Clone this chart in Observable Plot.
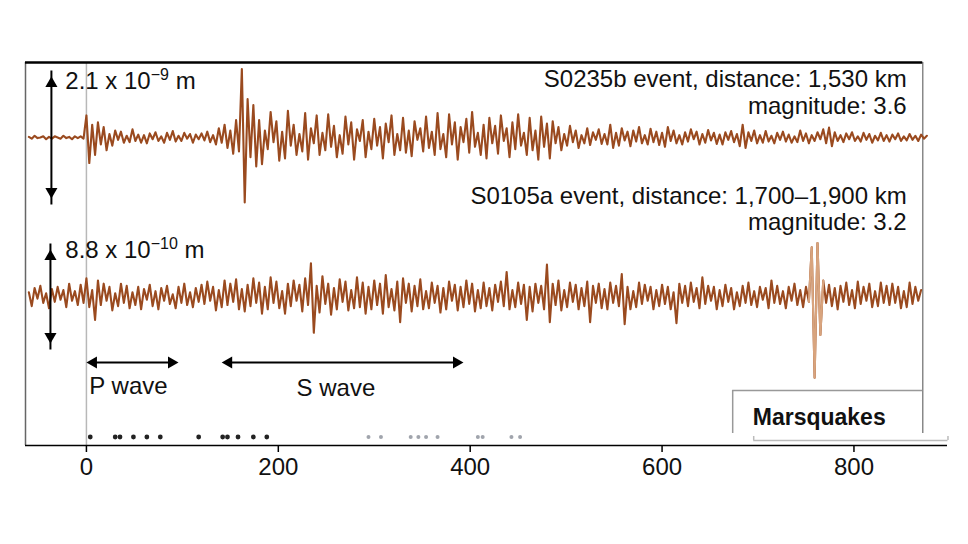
<!DOCTYPE html>
<html>
<head>
<meta charset="utf-8">
<script src="https://cdn.jsdelivr.net/npm/d3@7"></script>
<script src="https://cdn.jsdelivr.net/npm/@observablehq/plot@0.6"></script>
<style>
  html, body { margin: 0; padding: 0; background: #fff; }
</style>
</head>
<body>
<div id="chart"></div>
<script>
// ---- Data ----
// Sampling grid of both seismograms (seconds)
const sampleStart = -60;
const sampleStep = 3;

// S0235b event: displacement, units of 1e-11 m
const traceS0235b = [
  1,-2,3,-1,0,2,-3,1,-2,2,0,-2,3,-1,1,-3,2,-1,2,-2,
  38,-44,22,-30,26,-12,18,-22,6,-14,12,-4,10,-9,3,-8,14,-6,5,-9,
  4,-10,7,-3,9,-6,2,-9,8,-4,11,-7,3,-6,8,-2,6,-9,5,-3,
  7,-5,10,-8,4,-12,16,-9,22,-18,12,-28,30,-24,118,-112,66,-34,56,-50,
  30,-46,12,-20,44,-8,28,-40,10,-36,46,-14,22,-30,6,-24,42,-38,16,-10,
  38,-30,8,-22,40,-16,20,-34,4,-28,36,-12,26,-38,14,-6,30,-34,10,-20,
  32,-14,18,-36,24,-8,38,-30,6,-22,34,-26,12,-32,28,-4,16,-24,36,-18,
  10,-30,42,-20,6,-34,40,-12,26,-38,18,-8,32,-26,44,-16,8,-30,22,-36,
  34,-10,20,-28,38,-6,16,-34,26,-20,40,-14,8,-30,34,-22,12,-38,36,-16,
  24,-36,28,-10,18,-22,6,-14,20,-8,12,-18,4,-10,16,-13,9,-4,14,-11,
  6,-12,22,-18,8,-14,16,-5,10,-15,12,-7,18,-10,4,-12,15,-8,10,-13,
  8,-16,18,-6,12,-10,4,-12,9,-7,14,-3,10,-12,6,-9,13,-5,8,-11,
  5,-12,9,-4,11,-8,6,-15,22,-18,9,-6,12,-10,4,-9,11,-7,3,-10,
  8,-4,10,-7,5,-9,2,-8,12,-6,7,-10,4,-6,9,-3,14,-10,17,-15,
  9,-6,4,-8,7,-3,9,-6,2,-7,8,-4,6,-9,3,-5,8,-6,4,-7,
  5,-3,7,-6,2,-5,6,-4,3,-6,5,-2,3
];

// S0105a event: displacement, units of 1e-11 m
const traceS0105a = [
  4,-9,8,-2,10,-6,3,-11,7,-5,9,-3,6,-10,12,-4,5,-8,11,-6,
  17,-10,6,-22,15,-8,12,-4,9,-13,3,-9,12,-6,10,-11,4,-8,9,-12,
  7,-3,11,-9,5,-12,8,-4,10,-7,2,-11,9,-6,12,-8,4,-10,8,-5,
  11,-7,14,-4,9,-13,6,-10,15,-8,12,-5,16,-12,7,-14,11,-9,17,-6,
  13,-16,9,-12,18,-6,14,-11,5,-16,12,-9,15,-4,11,-14,17,-8,31,-34,
  10,-15,19,-7,12,-17,8,-12,16,-5,14,-13,6,-11,18,-10,13,-16,9,-12,
  15,-8,12,-16,20,-10,7,-13,14,-24,17,-6,12,-14,10,-9,16,-12,5,-11,
  13,-6,10,-15,8,-12,14,-4,11,-13,9,-10,15,-7,12,-14,6,-11,13,-9,
  8,-13,11,-5,14,-9,23,-12,6,-10,13,-7,11,-22,9,-14,12,-6,10,-12,
  30,-24,12,-8,15,-13,6,-10,13,-5,11,-12,8,-9,14,-24,10,-6,12,-11,
  7,-12,13,-6,10,-9,21,-26,9,-12,5,-10,13,-7,11,-4,9,-12,6,-9,
  11,-7,9,-12,4,-25,12,-6,10,-9,13,-5,8,-11,18,-7,10,-4,9,-12,
  6,-9,11,-5,8,-12,4,-9,10,-6,13,-8,5,-10,9,-3,8,-11,15,-6,
  10,-7,5,-11,9,-4,12,-8,6,-10,9,-5,46,-76,50,-36,15,-6,11,-9,
  8,-12,10,-5,13,-8,6,-11,14,-7,9,-4,12,-10,5,-9,13,-6,10,-8,
  12,-6,9,-11,5,-10,13,-7,9,-4,6
];

// Scale bars (metres)
const scaleBarTop = 2.1e-9;
const scaleBarBottom = 8.8e-10;

// Texts
const eventLabels = ["S0235b event, distance: 1,530 km", "magnitude: 3.6",
                     "S0105a event, distance: 1,700\u20131,900 km", "magnitude: 3.2"];
const scaleLabelParts = [["2.1 x 10", "\u22129", " m"], ["8.8 x 10", "\u221210", " m"]];
const phaseLabels = ["P wave", "S wave"];
const phaseWindows = [[0, 96], [141, 393]];   // seconds
const xTicks = [0, 200, 400, 600, 800];
const highlightWindow = [752, 770];            // lighter glitch segment of S0105a
const remnantDark = [4, 30, 35, 49, 63, 77, 117, 142, 147, 158, 174, 188];
const remnantLight = [294, 307, 338, 346, 354, 366, 408, 413, 443, 452];

// ---- Layout (y units = drawing units of the frame) ----
const baseTop = 308, baseBottom = 149;
const barLenTop = 122, barLenBottom = 94;
const gainTop = barLenTop / (scaleBarTop / 1e-11);
const gainBottom = barLenBottom / (scaleBarBottom / 1e-11);

const topData = traceS0235b.map((v, i) => ({t: sampleStart + i * sampleStep, y: baseTop + v * gainTop}));
const botData = traceS0105a.map((v, i) => ({t: sampleStart + i * sampleStep, y: baseBottom + v * gainBottom}));
const botHi = botData.filter(d => d.t >= highlightWindow[0] && d.t <= highlightWindow[1]);

const brown = "#9a4a1f";
const font = "Liberation Sans, Arial, Helvetica, sans-serif";
const fs = 24;
const xL = -63.5, xR = 897.5, frameR = 871.7, yTop = 383;

function txt(s, x, y, o = {}) {
  return Plot.text([s], {x, y, text: d => d, fontSize: fs, fill: "#111", ...o});
}
function vArrow(x, y1, y2) {
  return [
    Plot.link([0], {x1: x, x2: x, y1: y1 - 6, y2: y2 + 6, stroke: "#000", strokeWidth: 2}),
    Plot.dot([0], {x, y: y2, dy: 7, symbol: "triangle", r: 4.5, fill: "#000", rotate: 0}),
    Plot.dot([0], {x, y: y1, dy: -7, symbol: "triangle", r: 4.5, fill: "#000", rotate: 180})
  ];
}
function hArrow(x1, x2, y) {
  return [
    Plot.link([0], {x1: x1 + 5, x2: x2 - 5, y1: y, y2: y, stroke: "#000", strokeWidth: 2}),
    Plot.dot([0], {x: x1, y, dx: 7, symbol: "triangle", r: 4.5, fill: "#000", rotate: -90}),
    Plot.dot([0], {x: x2, y, dx: -7, symbol: "triangle", r: 4.5, fill: "#000", rotate: 90})
  ];
}

const chart = Plot.plot({
  width: 968,
  height: 544,
  marginLeft: 25,
  marginRight: 21,
  marginTop: 62,
  marginBottom: 99,
  x: {domain: [xL, xR], axis: null, label: null},
  y: {domain: [0, yTop], axis: null, label: null},
  style: {fontFamily: font, fontSize: fs + "px", background: "#fff", color: "#111"},
  marks: [
    // frame pieces
    Plot.ruleX([0], {y1: 0, y2: yTop, stroke: "#b8b8b8", strokeWidth: 1.5}),
    Plot.ruleX([xL], {y1: 0, y2: yTop, stroke: "#666", strokeWidth: 1.5}),
    Plot.ruleX([frameR], {y1: 12, y2: yTop, stroke: "#888", strokeWidth: 1.5}),
    Plot.ruleY([yTop], {x1: xL, x2: frameR, stroke: "#000", strokeWidth: 2.5}),
    // Marsquakes box + bracket
    Plot.ruleX([673.6], {y1: 12, y2: 55, stroke: "#999", strokeWidth: 1.5}),
    Plot.ruleY([55], {x1: 673.6, x2: frameR, stroke: "#999", strokeWidth: 1.5}),
    Plot.ruleY([5], {x1: 695.5, x2: 898, stroke: "#bbb", strokeWidth: 1.5}),
    Plot.ruleX([695.5, 898], {y1: 5, y2: 9, stroke: "#bbb", strokeWidth: 1.5}),
    txt("Marsquakes", 694.5, 28, {textAnchor: "start", fontWeight: "bold", fontSize: 23}),
    // remnant dots
    Plot.dot(remnantDark, {x: d => d, y: 8.5, r: 2.4, fill: "#222", stroke: null}),
    Plot.dot(remnantLight, {x: d => d, y: 8.5, r: 2, fill: "#a0a4ac", stroke: null}),
    // axis
    Plot.ruleY([0], {stroke: "#000", strokeWidth: 1.5}),
    Plot.axisX(xTicks, {anchor: "bottom", tickSize: 7, tickPadding: 5, fontSize: fs, label: null, stroke: "#000", strokeWidth: 1.5, tickFormat: d => String(d)}),
    // traces
    Plot.line(topData, {x: "t", y: "y", stroke: brown, strokeWidth: 2.1}),
    Plot.line(botData, {x: "t", y: "y", stroke: brown, strokeWidth: 2.1}),
    Plot.line(botHi, {x: "t", y: "y", stroke: "#d8a47e", strokeWidth: 2.1}),
    // scale bars
    ...vArrow(-36.5, baseTop - barLenTop / 2, baseTop + barLenTop / 2),
    ...vArrow(-37.5, baseBottom - barLenBottom / 2, baseBottom + barLenBottom / 2),
    txt(scaleLabelParts[0].join(""), -22, 364, {textAnchor: "start"}),
    txt(scaleLabelParts[1].join(""), -22, 195, {textAnchor: "start"}),
    // event labels
    txt(eventLabels[0], 855, 366, {textAnchor: "end"}),
    txt(eventLabels[1], 855, 339, {textAnchor: "end"}),
    txt(eventLabels[2], 855, 249, {textAnchor: "end"}),
    txt(eventLabels[3], 855, 223, {textAnchor: "end"}),
    // phase windows
    ...hArrow(phaseWindows[0][0], phaseWindows[0][1], 83),
    ...hArrow(phaseWindows[1][0], phaseWindows[1][1], 83),
    txt(phaseLabels[0], 3, 59, {textAnchor: "start"}),
    txt(phaseLabels[1], 219, 57, {textAnchor: "start"})
  ]
});

// superscript exponents in the scale-bar labels
chart.querySelectorAll("text").forEach(el => {
  const parts = scaleLabelParts.find(p => p.join("") === el.textContent);
  if (!parts) return;
  el.textContent = "";
  const ns = "http://www.w3.org/2000/svg";
  const a = document.createElementNS(ns, "tspan"); a.textContent = parts[0];
  const b = document.createElementNS(ns, "tspan"); b.textContent = parts[1];
  b.setAttribute("dy", "-9"); b.setAttribute("font-size", "16");
  const c = document.createElementNS(ns, "tspan"); c.textContent = parts[2];
  c.setAttribute("dy", "9");
  el.append(a, b, c);
});

document.getElementById("chart").appendChild(chart);
</script>
</body>
</html>
